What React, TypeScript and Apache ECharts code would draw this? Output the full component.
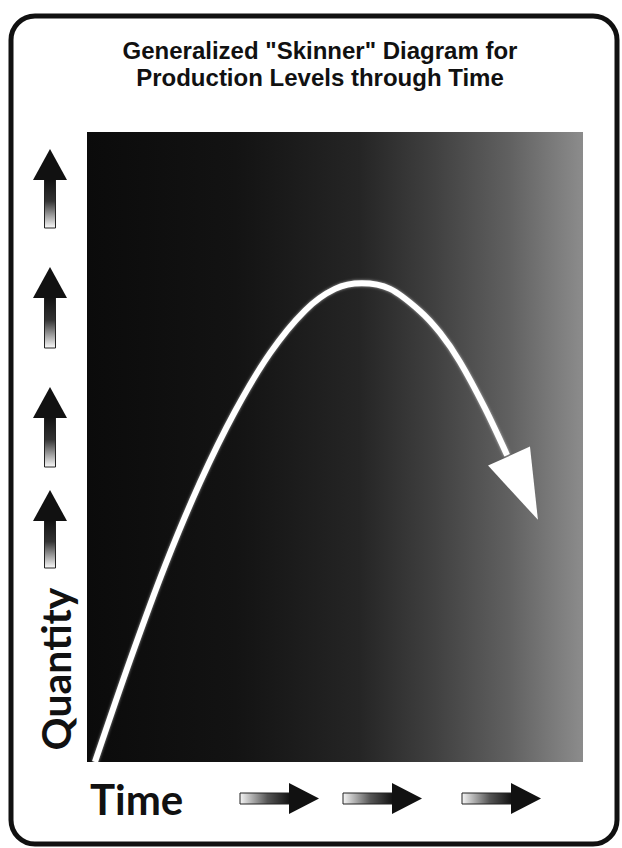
import React, { useEffect, useRef } from "react";
import * as echarts from "echarts";

const titleLines = ['Generalized "Skinner" Diagram for', "Production Levels through Time"];
const yLabel = "Quantity";
const xLabel = "Time";

// curve (axis units 0..100)
const curveX = [1.6, 8.7, 15.7, 22.8, 29.8, 36.9, 44.0, 50.0, 55.4, 61.1, 67.1, 71.2, 75.2, 80.2, 84.7];
const curveY = [0, 16.2, 31.1, 44.4, 55.6, 64.9, 71.7, 75.1, 76.0, 75.1, 71.6, 68.1, 63.5, 56.2, 48.7];
const arrowHead = [88.0, 43.5];

// decorative arrow positions
const upArrowTips = [149, 267, 387, 490];
const upArrowBottoms = [228, 348, 467, 568];
const rightArrowLefts = [240, 343, 462];
const rightArrowTips = [319, 422, 541];

export default function App() {
  const ref = useRef<HTMLDivElement>(null);
  useEffect(() => {
    if (!ref.current) return;
    document.body.style.margin = "0";
    const chart = echarts.init(ref.current, null, { renderer: "svg" });
    const graphics: any[] = [];
    graphics.push({
      type: "rect",
      shape: { x: 11, y: 16, width: 606, height: 828, r: 24 },
      style: { fill: "none", stroke: "#111", lineWidth: 5 },
      z: 10,
    });
    titleLines.forEach((t, i) => {
      graphics.push({
        type: "text",
        x: 320,
        y: 50 + i * 27,
        style: {
          text: t,
          fill: "#111",
          font: 'bold 24px "Liberation Sans", sans-serif',
          align: "center",
          verticalAlign: "middle",
        },
      });
    });
    graphics.push({
      type: "text",
      x: 55,
      y: 669,
      rotation: Math.PI / 2,
      style: {
        text: yLabel,
        fill: "#111",
        font: 'bold 41px "Lato", sans-serif',
        align: "center",
        verticalAlign: "middle",
      },
    });
    graphics.push({
      type: "text",
      x: 90,
      y: 799,
      style: {
        text: xLabel,
        fill: "#111",
        font: 'bold 42px "Lato", sans-serif',
        align: "left",
        verticalAlign: "middle",
      },
    });
    upArrowTips.forEach((tip, i) => {
      const base = tip + 31;
      const bottom = upArrowBottoms[i];
      graphics.push({
        type: "rect",
        shape: { x: 44.5, y: base - 1, width: 11, height: bottom - base + 1 },
        style: {
          fill: new echarts.graphic.LinearGradient(0, 0, 0, 1, [
            { offset: 0, color: "#111" },
            { offset: 0.45, color: "#333" },
            { offset: 1, color: "#fafafa" },
          ]),
          stroke: "#222",
          lineWidth: 1,
        },
      });
      graphics.push({
        type: "polygon",
        shape: { points: [[33, base], [67, base], [50, tip]] },
        style: { fill: "#111" },
      });
    });
    rightArrowLefts.forEach((left, i) => {
      const tip = rightArrowTips[i];
      const base = tip - 30;
      graphics.push({
        type: "rect",
        shape: { x: left, y: 793, width: base - left + 1, height: 11 },
        style: {
          fill: new echarts.graphic.LinearGradient(0, 0, 1, 0, [
            { offset: 0, color: "#f5f5f5" },
            { offset: 0.55, color: "#555" },
            { offset: 1, color: "#111" },
          ]),
          stroke: "#222",
          lineWidth: 1,
        },
      });
      graphics.push({
        type: "polygon",
        shape: { points: [[base, 783], [base, 814], [tip, 798.5]] },
        style: { fill: "#111" },
      });
    });

    chart.setOption({
      animation: false,
      backgroundColor: "#fff",
      grid: {
        left: 87,
        top: 132,
        width: 496,
        height: 630,
        show: true,
        borderWidth: 0,
        backgroundColor: new echarts.graphic.LinearGradient(0, 0, 1, 0, [
          { offset: 0, color: "#0b0b0b" },
          { offset: 0.3, color: "#131313" },
          { offset: 0.55, color: "#252525" },
          { offset: 0.7, color: "#404040" },
          { offset: 0.85, color: "#606060" },
          { offset: 1, color: "#8c8c8c" },
        ]),
      },
      xAxis: { type: "value", min: 0, max: 100, show: false },
      yAxis: { type: "value", min: 0, max: 100, show: false },
      graphic: graphics,
      series: [
        {
          type: "line",
          data: curveX.map((x, i) => [x, curveY[i]]),
          smooth: 0.3,
          showSymbol: false,
          lineStyle: { color: "#fff", width: 6, shadowColor: "rgba(255,255,255,0.6)", shadowBlur: 3 },
          z: 3,
        },
        {
          type: "scatter",
          data: [arrowHead],
          symbol: "triangle",
          symbolSize: [46, 70],
          symbolRotate: -155.6,
          itemStyle: { color: "#fff", opacity: 1 },
          z: 4,
        },
      ],
    });
    return () => chart.dispose();
  }, []);
  return <div ref={ref} style={{ width: 622, height: 848 }} />;
}
